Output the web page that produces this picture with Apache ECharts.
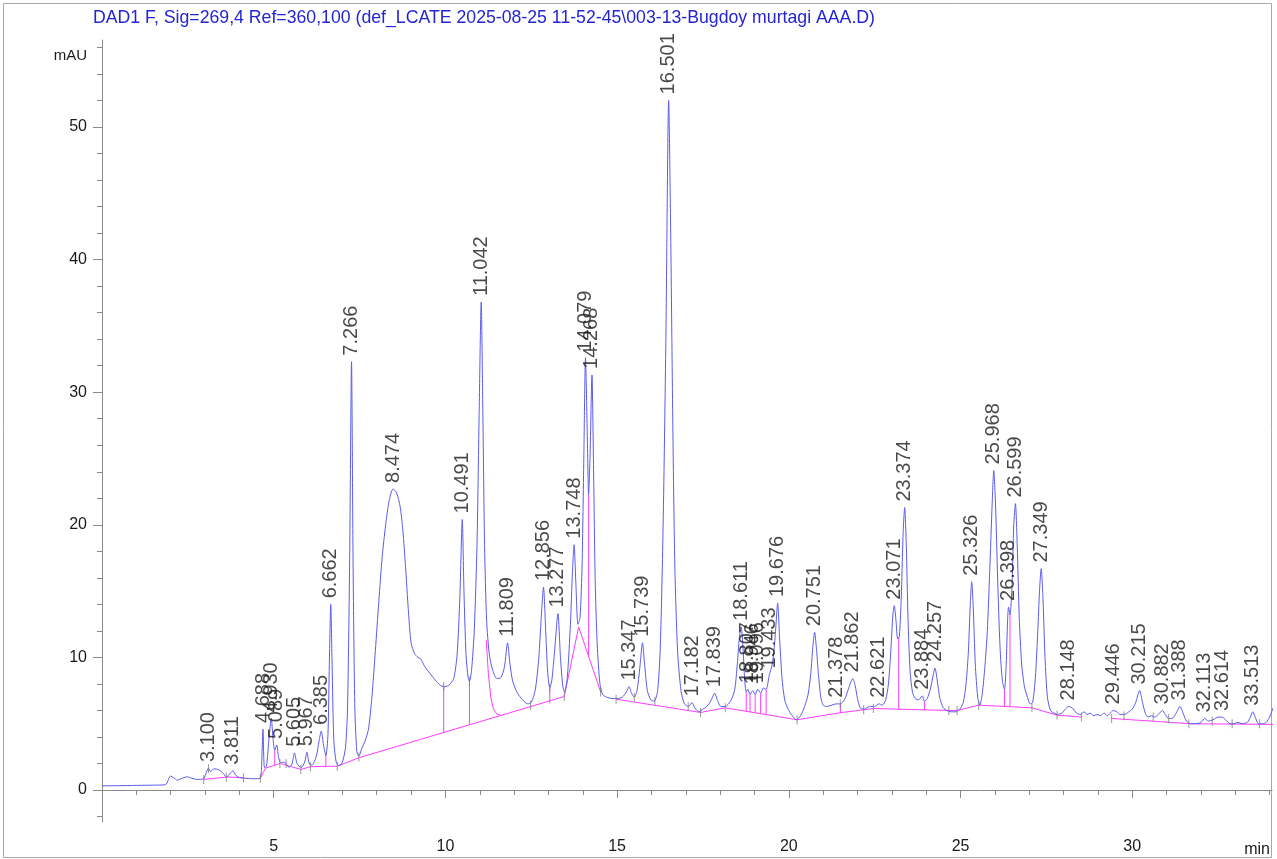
<!DOCTYPE html>
<html><head><meta charset="utf-8">
<script src="https://cdn.jsdelivr.net/npm/echarts@6/dist/echarts.min.js"></script>
<style>html,body{margin:0;padding:0;background:#fff}#c{width:1277px;height:859px}</style>
</head><body><div id="c"></div>
<script>
// ---------------- data ----------------
const titleText = 'DAD1 F, Sig=269,4 Ref=360,100 (def_LCATE 2025-08-25 11-52-45\\003-13-Bugdoy murtagi AAA.D)';
const yUnit = 'mAU';
const xUnit = 'min';

const xMajorTicks = [5, 10, 15, 20, 25, 30];
const xMinorTicks = [1, 2, 3, 4, 6, 7, 8, 9, 11, 12, 13, 14, 16, 17, 18, 19, 21, 22, 23, 24, 26, 27, 28, 29, 31, 32, 33, 34];
const yMajorTicks = [0, 10, 20, 30, 40, 50];
const yMinorTicks = [-2, 2, 4, 6, 8, 12, 14, 16, 18, 22, 24, 26, 28, 32, 34, 36, 38, 42, 44, 46, 48, 52, 54, 56];

// signal trace, [time (min), absorbance (mAU)]
const trace1 = [
  [0.00,0.32],[0.5,0.33],[1.0,0.35],[1.5,0.37],[1.85,0.40],[1.92,0.70],[1.99,1.05],[2.10,0.90],[2.19,0.75],
  [2.35,0.90],[2.48,1.00],[2.62,0.88],[2.77,0.80],[2.96,0.85],[3.02,1.20],[3.10,1.65],[3.16,1.38],[3.22,1.55],
  [3.29,1.60],[3.45,1.45],[3.55,1.20],[3.62,0.98],[3.70,1.15],[3.81,1.45],[3.90,1.10],[4.00,0.95],[4.22,0.88],
  [4.45,0.85],[4.60,0.88],[4.64,1.40],[4.688,4.60],[4.73,1.70],[4.79,1.80],[4.86,3.80],[4.93,5.40],[4.98,3.90],
  [5.03,3.00],[5.089,3.40],[5.14,2.50],[5.20,2.05],[5.28,2.10],[5.36,2.00],[5.45,1.70],[5.53,1.95],[5.605,2.80],
  [5.68,2.00],[5.80,1.70],[5.90,2.10],[5.967,2.85],[6.04,1.95],[6.12,1.90],[6.24,2.55],[6.32,3.70],[6.385,4.45],
  [6.45,3.40],[6.52,2.60],[6.58,4.20],[6.62,9.50],[6.662,14.0],[6.70,9.50],[6.75,3.80],[6.82,2.10],[6.90,1.85],
  [7.00,2.10],[7.09,3.20],[7.15,6.20],[7.21,17.0],[7.266,32.3],[7.31,17.5],[7.36,6.50],[7.42,2.90],[7.48,2.55]
];
const trace2 = [
  [7.56,3.10],[7.66,3.70],[7.76,4.60],[7.86,7.00],[7.96,10.5],[8.06,14.2],[8.16,17.6],[8.26,20.0],[8.36,21.8],
  [8.474,22.7],[8.58,22.4],[8.68,21.4],[8.76,19.6],[8.84,16.8],[8.92,13.6],[9.00,11.1],[9.10,10.3],[9.20,10.0],
  [9.28,9.90],[9.40,9.30],[9.55,8.80],[9.70,8.30],[9.85,7.90],[9.95,7.80],[10.10,7.90],[10.24,8.40],[10.34,10.2],
  [10.42,14.5],[10.491,20.4],[10.54,15.0],[10.60,10.2],[10.66,8.50],[10.70,8.20],[10.76,9.00],[10.84,12.0],
  [10.92,18.5],[10.98,28.0],[11.042,36.8],[11.09,28.5],[11.14,18.5],[11.20,12.8],[11.28,10.2],[11.38,9.00],
  [11.50,8.40],[11.62,8.50],[11.72,9.30],[11.809,11.1],[11.88,9.50],[11.96,8.20],[12.10,7.30],[12.25,6.80],
  [12.40,6.50],[12.50,6.60],[12.62,7.60],[12.72,10.0],[12.79,13.0],[12.856,15.3],[12.92,12.0],[12.98,8.80],
  [13.04,7.70],[13.10,8.30],[13.18,10.5],[13.277,13.3],[13.35,10.0],[13.42,7.80],[13.47,7.40],[13.55,8.50],
  [13.64,12.5],[13.70,16.5],[13.748,18.5],[13.80,15.5],[13.86,12.5],[13.92,13.0],[13.98,17.0],[14.03,25.0],
  [14.079,32.6],[14.13,27.0],[14.17,22.3],[14.21,25.0],[14.268,31.3],[14.31,25.0],[14.36,16.0],[14.42,11.0],
  [14.50,8.00],[14.58,7.20]
];
const trace3 = [
  [14.70,7.00],[14.85,6.90],[15.00,6.90],[15.15,7.00],[15.27,7.40],[15.347,7.80],[15.42,7.30],[15.50,7.00],
  [15.58,7.50],[15.66,9.20],[15.739,11.1],[15.80,9.50],[15.88,7.50],[15.98,6.80],[16.08,6.70],[16.18,7.50],
  [16.26,11.0],[16.34,20.0],[16.42,34.0],[16.501,52.0],[16.56,42.0],[16.62,28.0],[16.68,17.0],[16.76,10.5],
  [16.86,7.50],[16.96,6.50],[17.08,6.30],[17.182,6.60],[17.26,6.20],[17.38,5.90],[17.50,6.10],[17.65,6.40],
  [17.76,6.90],[17.839,7.30],[17.92,6.80],[18.02,6.30],[18.15,6.30],[18.30,6.70],[18.42,7.50],[18.50,9.50],
  [18.56,11.5],[18.611,12.3],[18.66,11.0],[18.71,8.50],[18.76,7.40],[18.807,7.60],[18.87,7.20],[18.946,7.50],
  [19.02,7.20],[19.096,7.60],[19.18,7.30],[19.258,7.70],[19.34,7.60],[19.433,8.70],[19.52,9.50],[19.60,11.5],
  [19.676,14.1],[19.73,11.5],[19.80,8.50],[19.88,6.80],[19.98,6.10],[20.10,5.60],[20.22,5.30]
];
const trace4 = [
  [20.34,5.60],[20.46,6.30],[20.56,7.20],[20.64,8.80],[20.70,10.8],[20.751,11.9],[20.80,10.8],[20.86,8.80],
  [20.93,7.00],[21.00,6.40],[21.10,6.30],[21.25,6.40],[21.378,6.50],[21.50,6.50],[21.62,6.80],[21.72,7.50],
  [21.80,8.10],[21.862,8.40],[21.93,7.90],[22.00,6.90],[22.08,6.20],[22.20,6.10],[22.35,6.30],[22.50,6.30],
  [22.621,6.50],[22.72,6.40],[22.82,6.80],[22.90,8.00],[22.97,10.5],[23.03,13.2],[23.071,13.9],[23.12,12.8],
  [23.17,11.4],[23.22,11.6],[23.28,15.0],[23.33,19.5],[23.374,21.3],[23.42,18.5],[23.47,13.0],[23.53,9.00],
  [23.60,7.40],[23.68,6.90],[23.78,6.80],[23.884,7.10],[23.95,6.70],[24.03,6.90],[24.12,7.60],[24.20,8.60],
  [24.257,9.20],[24.32,8.30],[24.40,6.90],[24.50,6.20],[24.60,6.00],[24.72,5.90],[24.85,5.90],[24.98,6.10],
  [25.08,6.60],[25.16,8.00],[25.23,10.5],[25.28,13.8],[25.326,15.7],[25.37,13.8],[25.43,9.50],[25.50,7.00],
  [25.56,6.40],[25.62,7.00],[25.70,9.00],[25.78,12.0],[25.85,16.5],[25.92,21.5],[25.968,24.1],[26.02,21.5],
  [26.08,16.0],[26.15,10.8],[26.22,8.20],[26.28,7.60],[26.33,9.50],[26.37,12.8],[26.398,13.8],[26.44,13.2],
  [26.50,15.5],[26.55,20.0],[26.599,21.6],[26.65,18.5],[26.71,13.0],[26.78,9.50],[26.86,7.80],[26.95,7.00],
  [27.03,6.50],[27.10,6.60],[27.18,8.50],[27.25,12.0],[27.30,15.0],[27.349,16.7],[27.40,14.5],[27.46,10.0],
  [27.53,7.00]
];
const trace5 = [
  [27.62,6.00],[27.72,5.80],[27.82,5.70],[27.95,5.80],[28.05,6.10],[28.148,6.30],[28.25,6.20],[28.38,5.80],
  [28.50,5.70],[28.60,5.90],[28.68,5.70],[28.78,5.80],[28.88,5.60],[28.98,5.70],[29.08,5.60],[29.18,5.80],
  [29.28,5.60],[29.36,5.80],[29.446,6.00],[29.55,5.90],[29.65,5.70],[29.78,5.70],[29.90,5.90],[30.00,6.10],
  [30.10,6.60],[30.215,7.50],[30.30,6.60],[30.38,5.80],[30.46,5.50],[30.56,5.60],[30.66,5.50],[30.76,5.70],
  [30.882,6.00],[30.96,5.70],[31.06,5.40],[31.16,5.40],[31.28,5.80],[31.388,6.30],[31.48,5.80],[31.58,5.20],
  [31.70,5.00],[31.85,5.00],[32.00,5.10],[32.113,5.40],[32.22,5.20],[32.35,5.30],[32.50,5.50],[32.614,5.50],
  [32.72,5.30],[32.85,5.00],[32.96,5.00],[33.08,5.10],[33.20,5.00],[33.35,5.10],[33.44,5.50],[33.513,5.90],
  [33.58,5.50],[33.68,5.00],[33.80,5.00],[33.90,5.10],[34.00,5.50],[34.10,6.20]
];

// integration results: retention time labels and apex heights
const peakLabels = ['3.100','3.811','4.688','4.930','5.089','5.605','5.967','6.385','6.662','7.266','8.474',
  '10.491','11.042','11.809','12.856','13.277','13.748','14.079','14.268','15.347','15.739','16.501','17.182',
  '17.839','18.611','18.807','18.946','19.096','19.433','19.676','20.751','21.378','21.862','22.621','23.071',
  '23.374','23.884','24.257','25.326','25.968','26.398','26.599','27.349','28.148','29.446','30.215','30.882',
  '31.388','32.113','32.614','33.513'];
const peakHeights = [1.65,1.45,4.60,5.40,3.40,2.80,2.85,4.45,14.0,32.3,22.7,
  20.4,36.8,11.1,15.3,13.3,18.5,32.6,31.3,7.80,11.1,52.0,6.60,
  7.30,12.3,7.60,7.50,7.60,8.70,14.1,11.9,6.50,8.40,6.50,13.9,
  21.3,7.10,9.20,15.7,24.1,13.8,21.6,16.7,6.30,6.00,7.50,6.00,
  6.30,5.40,5.50,5.90];

// baselines drawn by the integrator
const baseSeg1 = [[2.96,0.80],[3.62,0.97]];
const baseSeg2 = [[3.64,0.99],[4.12,0.92]];
const baseSeg3 = [[4.61,0.88],[4.76,1.65],[5.18,2.00]];
const baseSeg4 = [[5.20,2.00],[5.79,1.55],[6.07,1.76],[6.85,1.80],[7.50,2.45],[13.46,7.05],[13.88,12.3],[14.52,7.40]];
const baseSkim = [[11.19,11.3],[11.25,8.80],[11.32,7.00],[11.40,6.10],[11.50,5.72],[11.62,5.63]];
const baseSeg5 = [[14.97,6.85],[17.43,5.85],[18.15,6.20],[20.24,5.30],[21.55,5.85],[22.18,6.05],[22.46,6.15],
  [24.66,6.00],[24.90,6.00],[25.53,6.40],[27.08,6.20],[27.81,5.65],[28.52,5.50]];
const baseSeg6 = [[29.40,5.40],[31.70,5.00],[34.10,4.95]];
// vertical drop lines: [time, top, bottom]
const dropLines = [[5.03,3.00,1.87],[6.52,2.60,1.78],[9.95,7.80,4.34],[10.70,8.20,4.92],[13.04,7.70,6.55],
  [14.17,22.3,10.1],[18.76,7.40,5.94],[18.87,7.20,5.89],[19.02,7.20,5.83],[19.18,7.30,5.76],[19.34,7.60,5.68],
  [21.50,6.50,5.83],[23.20,11.5,6.10],[23.95,6.70,6.05],[26.28,7.60,6.30],[26.44,13.2,6.28]];
// integration event tick marks
const eventTimes = [2.96,3.10,3.62,4.12,4.61,5.18,5.36,5.79,6.07,6.85,7.48,9.95,10.70,12.48,13.04,13.46,14.52,
  14.97,15.50,16.10,17.07,17.43,18.15,20.24,21.50,22.18,22.46,24.66,24.90,25.53,27.08,27.81,28.52,29.40,
  29.76,30.61,31.06,31.65,32.33,32.91,33.71];
const eventValues = [0.80,1.60,0.97,0.92,0.88,2.00,2.00,1.55,1.76,1.80,2.50,7.80,8.20,6.40,7.70,7.05,7.40,
  6.85,7.00,6.70,6.30,5.85,6.20,5.30,6.50,6.05,6.15,6.00,6.00,6.40,6.20,5.65,5.50,5.40,
  5.60,5.50,5.40,5.00,5.20,5.00,5.00];

// ---------------- chart ----------------
const BLUE = '#5b5bee', MAG = '#ff3cff', AXIS = '#8a8a8a', TXT = '#1a1a1a';
const FONT = '"Liberation Sans", Arial, sans-serif';
const signal = [].concat(trace1, trace2, trace3, trace4, trace5);
const baseSegs = [baseSeg1, baseSeg2, baseSeg3, baseSeg4, baseSkim, baseSeg5, baseSeg6];

const chart = echarts.init(document.getElementById('c'), null, {renderer: 'canvas'});
const xCommon = {type: 'value', min: 0, max: 34.07, splitLine: {show: false}};
const yCommon = {type: 'value', min: -2.41, max: 56.56, splitLine: {show: false}};

const series = [];
baseSegs.forEach(seg => series.push({type: 'line', data: seg, showSymbol: false, silent: true, z: 2,
  lineStyle: {color: MAG, width: 1}}));
dropLines.forEach(d => series.push({type: 'line', data: [[d[0], d[1]], [d[0], d[2]]], showSymbol: false,
  silent: true, z: 2, lineStyle: {color: MAG, width: 1}}));
series.push({type: 'line', data: signal, showSymbol: false, smooth: 0.25, silent: true, z: 3,
  lineStyle: {color: BLUE, width: 1}});
series.push({type: 'scatter', data: eventTimes.map((t, i) => [t, eventValues[i]]), symbol: 'rect',
  symbolSize: [1, 9], silent: true, z: 4, itemStyle: {color: '#7d7d7d'}});
series.push({type: 'scatter', silent: true, z: 5, symbol: 'circle', symbolSize: 0.1,
  itemStyle: {color: 'rgba(0,0,0,0)'},
  data: peakLabels.map((s, i) => ({name: s, value: [parseFloat(s), peakHeights[i]]})),
  label: {show: true, formatter: '{b}', position: 'top', distance: 6, rotate: 90, align: 'left',
    verticalAlign: 'middle', fontSize: 20, color: TXT, fontFamily: FONT}});

chart.setOption({
  animation: false,
  backgroundColor: '#ffffff',
  grid: {left: 102, right: 5, top: 40, bottom: 37},
  xAxis: [
    Object.assign({}, xCommon, {position: 'bottom',
      axisLine: {show: true, lineStyle: {color: AXIS, width: 1}},
      axisTick: {show: true, customValues: xMajorTicks, length: 8, lineStyle: {color: AXIS}},
      axisLabel: {show: true, customValues: xMajorTicks, fontSize: 16, color: TXT, fontFamily: FONT, margin: 17}}),
    Object.assign({}, xCommon, {position: 'bottom',
      axisLine: {show: false},
      axisTick: {show: true, customValues: xMinorTicks, length: 5, lineStyle: {color: AXIS}},
      axisLabel: {show: false}})
  ],
  yAxis: [
    Object.assign({}, yCommon, {position: 'left',
      axisLine: {show: true, lineStyle: {color: AXIS, width: 1}},
      axisTick: {show: true, customValues: yMajorTicks, length: 9, lineStyle: {color: AXIS}},
      axisLabel: {show: true, customValues: yMajorTicks, fontSize: 16, color: TXT, fontFamily: FONT, margin: 15}}),
    Object.assign({}, yCommon, {position: 'left',
      axisLine: {show: false},
      axisTick: {show: true, customValues: yMinorTicks, length: 5, lineStyle: {color: AXIS}},
      axisLabel: {show: false}})
  ],
  graphic: [
    {type: 'rect', shape: {x: 3.5, y: 3.5, width: 1268, height: 854}, style: {fill: null, stroke: '#a8a8a8', lineWidth: 1}, silent: true},
    {type: 'text', x: 93, y: 18, style: {text: titleText, fill: '#2424d4', font: '17.7px "Liberation Sans", Arial, sans-serif', textVerticalAlign: 'middle', textAlign: 'left'}},
    {type: 'text', x: 87, y: 56, style: {text: yUnit, fill: TXT, font: '15px ' + FONT, textVerticalAlign: 'middle', textAlign: 'right'}},
    {type: 'text', x: 1270, y: 850, style: {text: xUnit, fill: TXT, font: '16px ' + FONT, textVerticalAlign: 'middle', textAlign: 'right'}}
  ],
  series: series
});
</script></body></html>
